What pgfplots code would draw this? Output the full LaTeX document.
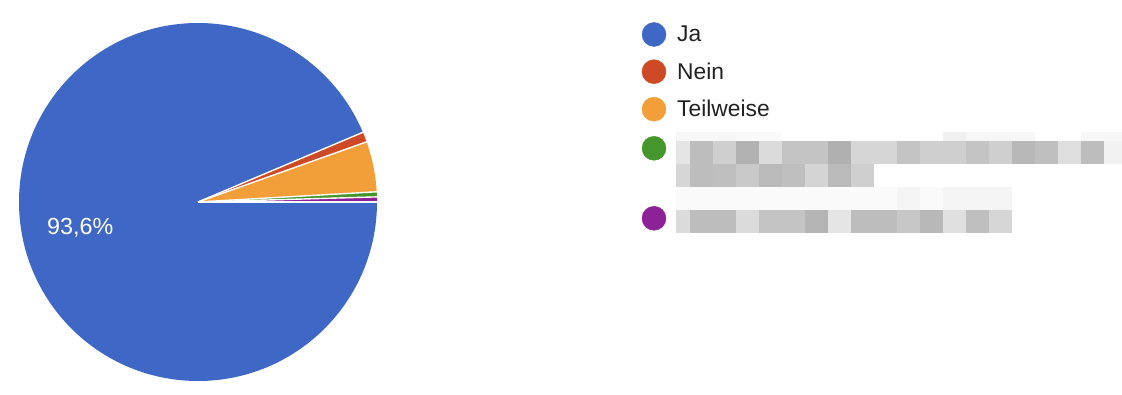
\documentclass[border=0pt]{standalone}
\usepackage{pgfplots}
\pgfplotsset{compat=1.18}
\usepackage{pgfplotstable}
\usepackage{fontspec}
\setmainfont{Liberation Sans}
\definecolor{slice0}{HTML}{3F67C5}
\definecolor{slice1}{HTML}{CE4A26}
\definecolor{slice2}{HTML}{F29F3A}
\definecolor{slice3}{HTML}{46962E}
\definecolor{slice4}{HTML}{8D2197}
\definecolor{txt}{HTML}{212121}
\pgfplotstableread{
idx label value
0 Ja 206
1 Nein 2
2 Teilweise 10
3 Option4 1
4 Option5 1
}\piedata
\newcommand\lfont{\fontsize{22.8}{27}\selectfont}
\begin{document}
\begin{tikzpicture}[x=1pt,y=1pt]
\xdef\total{0}
\foreach \i in {0,...,4}{\pgfplotstablegetelem{\i}{value}\of\piedata
  \pgfmathsetmacro\t{\total+\pgfplotsretval}\xdef\total{\t}}
\xdef\cum{0}
\foreach \i in {0,...,4}{%
  \pgfplotstablegetelem{\i}{value}\of\piedata
  \pgfmathsetmacro\a{-(\cum/\total)*360}%
  \pgfmathsetmacro\c{\cum+\pgfplotsretval}%
  \xdef\cum{\c}%
  \pgfmathsetmacro\b{-(\cum/\total)*360}%
  \expandafter\xdef\csname sa\i\endcsname{\a}%
  \expandafter\xdef\csname ea\i\endcsname{\b}%
}
\begin{axis}[x=1pt,y=1pt,xmin=0,xmax=1122,ymin=0,ymax=394,hide axis,clip=false,
  disabledatascaling,anchor=south west,at={(0,0)}]
\path (axis cs:0,0) rectangle (axis cs:1122,394);
\pgfplotsinvokeforeach{0,...,4}{
  \fill[fill=slice#1] (axis cs:198,192) -- ++(\csname sa#1\endcsname:179pt)
    arc[start angle=\csname sa#1\endcsname, end angle=\csname ea#1\endcsname, radius=179pt] -- cycle;
}
\pgfplotsinvokeforeach{0,...,4}{
  \draw[white, line width=1.4pt] (axis cs:198,192) -- ++(\csname sa#1\endcsname:179.5pt);
}
\node[anchor=base west, text=white, font=\fontsize{23.3}{27}\selectfont, inner sep=0pt] at (axis cs:47,159) {93,6\%};
% legend
\addplot[only marks, mark=*, mark size=12pt, color=slice0] coordinates {(654,359.5)};
\addplot[only marks, mark=*, mark size=12pt, color=slice1] coordinates {(654,322.3)};
\addplot[only marks, mark=*, mark size=12pt, color=slice2] coordinates {(654,284.8)};
\addplot[only marks, mark=*, mark size=12pt, color=slice3] coordinates {(654,245.7)};
\addplot[only marks, mark=*, mark size=12pt, color=slice4] coordinates {(654,175.7)};
\node[anchor=base west, text=txt, font=\lfont, inner sep=0pt] at (axis cs:677,352) {Ja};
\node[anchor=base west, text=txt, font=\lfont, inner sep=0pt] at (axis cs:677,314) {Nein};
\node[anchor=base west, text=txt, font=\lfont, inner sep=0pt] at (axis cs:677,277) {Teilweise};
\end{axis}
% pixelated (censored) legend texts
\foreach \xa/\xb/\p in {676/736/97, 736/782/98, 943/966/94, 966/1035/97, 1081/1122/97}
  {\fill[white!\p!black] (\xa,262.3) rectangle (\xb,253.3);}
\foreach \xa/\xb/\p in {676/690/90, 690/713/74, 713/736/81, 736/759/70, 759/782/86, 782/805/77, 805/828/77, 828/851/69, 851/874/84, 874/897/84, 897/920/77, 920/943/81, 943/966/81, 966/989/77, 989/1012/81, 1012/1035/72, 1035/1058/75, 1058/1081/87, 1081/1104/74, 1104/1122/95}
  {\fill[white!\p!black] (\xa,253.3) rectangle (\xb,230.3);}
\foreach \xa/\xb/\p in {676/690/84, 690/713/74, 713/736/75, 736/759/79, 759/782/73, 782/805/75, 805/828/83, 828/851/73, 851/874/81}
  {\fill[white!\p!black] (\xa,230.3) rectangle (\xb,207.3);}
\foreach \xa/\xb/\p in {676/897/98, 897/920/96, 920/943/98, 943/1012/96}
  {\fill[white!\p!black] (\xa,207.3) rectangle (\xb,184.3);}
\foreach \xa/\xb/\p in {676/690/86, 690/713/74, 713/736/74, 736/759/86, 759/782/77, 782/805/77, 805/828/71, 828/851/90, 851/874/74, 874/897/74, 897/920/78, 920/943/72, 943/966/88, 966/989/75, 989/1012/84}
  {\fill[white!\p!black] (\xa,184.3) rectangle (\xb,161.3);}
\end{tikzpicture}
\end{document}
